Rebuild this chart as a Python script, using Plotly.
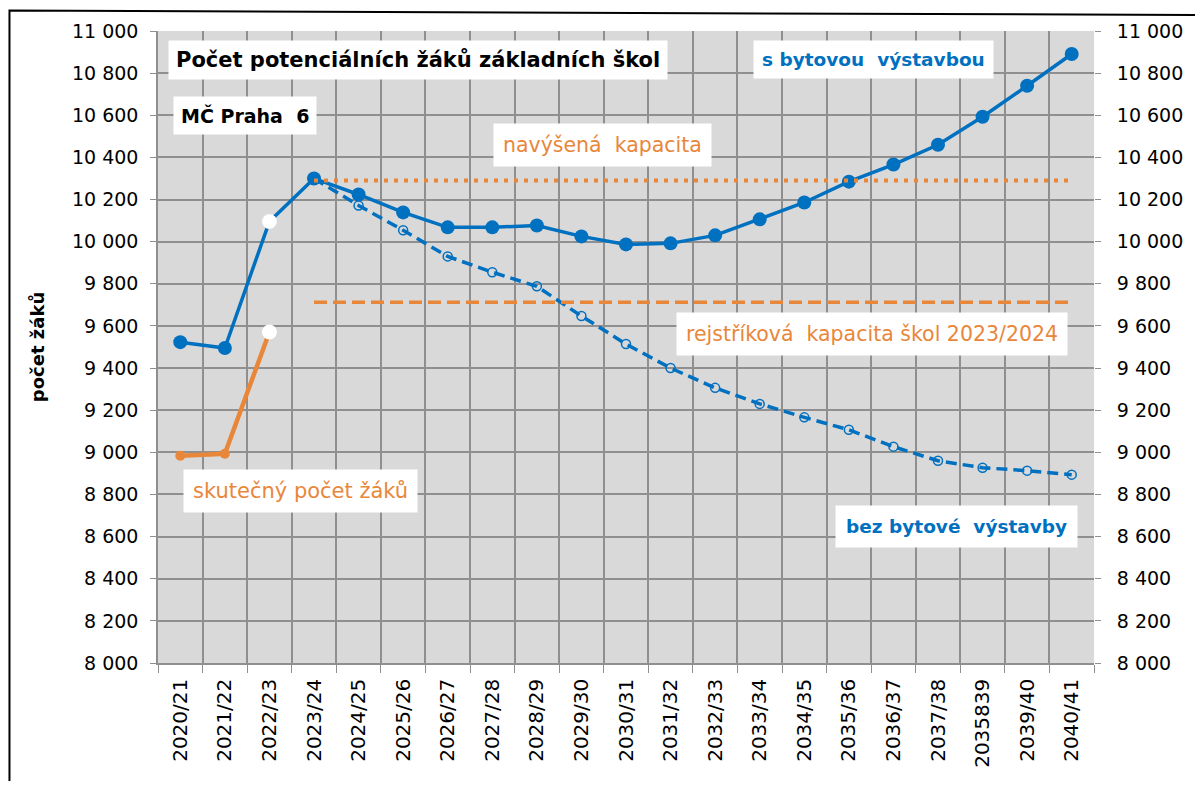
import plotly.graph_objects as go

categories = ["2020/21", "2021/22", "2022/23", "2023/24", "2024/25", "2025/26", "2026/27",
              "2027/28", "2028/29", "2029/30", "2030/31", "2031/32", "2032/33", "2033/34",
              "2034/35", "2035/36", "2036/37", "2037/38", "2035839", "2039/40", "2040/41"]

s_bytovou = [9523, 9495, 10096, 10300, 10224, 10139, 10068, 10068, 10077, 10025, 9987,
             9992, 10030, 10106, 10186, 10285, 10366, 10460, 10593, 10740, 10891]

bez_bytove = [None, None, None, 10300, 10172, 10054, 9930, 9855, 9788, 9647, 9514,
              9400, 9306, 9230, 9166, 9107, 9027, 8960, 8927, 8913, 8894]

skutecny_cats = ["2020/21", "2021/22", "2022/23"]
skutecny = [8984, 8993, 9571]

navysena_kapacita = 10290
rejstrikova_kapacita = 9712
cap_cats = ["2023/24", "2040/41"]

BLUE = "#0070C0"
ORANGE = "#E8873A"
FONT = "DejaVu Sans"

# the page body has an 8px margin; plot area in page px: x 158..1097, y 29..663
OFF = 8
PX_L, PX_R, PX_T, PX_B = 158, 1097, 29, 663
W, H = 1203 - 2 * OFF, 789 - 2 * OFF

fig = go.Figure()

fig.add_trace(go.Scatter(
    x=categories, y=s_bytovou, mode="lines+markers",
    line=dict(color=BLUE, width=3.5),
    marker=dict(size=14, color=BLUE, line=dict(width=0)),
    showlegend=False))

fig.add_trace(go.Scatter(
    x=categories, y=bez_bytove, mode="lines+markers",
    line=dict(color=BLUE, width=3.5, dash="11px,6px"),
    marker=dict(size=9, symbol="circle-open", color=BLUE, line=dict(width=1.5)),
    showlegend=False))

fig.add_trace(go.Scatter(
    x=skutecny_cats, y=skutecny, mode="lines+markers",
    line=dict(color=ORANGE, width=4.5),
    marker=dict(size=10, color=ORANGE, line=dict(width=0)),
    showlegend=False))

# white (estimated) points for 2022/23
fig.add_trace(go.Scatter(
    x=[categories[2], skutecny_cats[2]], y=[s_bytovou[2], skutecny[2]], mode="markers",
    marker=dict(size=[15, 15], color="white", opacity=1, line=dict(width=0)),
    showlegend=False))

fig.add_trace(go.Scatter(
    x=cap_cats, y=[navysena_kapacita] * 2, mode="lines",
    line=dict(color=ORANGE, width=4, dash="4px,6px"), showlegend=False))

fig.add_trace(go.Scatter(
    x=cap_cats, y=[rejstrikova_kapacita] * 2, mode="lines",
    line=dict(color=ORANGE, width=3.5, dash="13px,6px"), showlegend=False))

fig.add_trace(go.Scatter(x=categories, y=s_bytovou, yaxis="y2", mode="lines",
                         line=dict(width=0), opacity=0, hoverinfo="skip", showlegend=False))

GRID = "#8f8f8f"
yaxis_common = dict(range=[8000, 11000], dtick=200, tickformat=",d",
                    tickfont=dict(family=FONT, size=19, color="black"),
                    ticks="outside", ticklen=6, tickcolor=GRID)

fig.update_layout(
    width=W, height=H,
    margin=dict(l=PX_L - OFF, r=W - (PX_R - OFF), t=PX_T - OFF, b=H - (PX_B - OFF)),
    paper_bgcolor="white", plot_bgcolor="#d9d9d9",
    separators=", ",
    font=dict(family=FONT, color="black"),
    xaxis=dict(type="category", categoryorder="array", categoryarray=categories,
               range=[-0.5, 20.5], tickangle=-90, tickson="boundaries",
               ticks="outside", ticklen=8, tickcolor=GRID, ticklabelstandoff=6,
               showgrid=True, gridcolor=GRID, gridwidth=1.5,
               showline=True, linecolor=GRID, linewidth=1.5,
               tickfont=dict(family=FONT, size=20, color="black")),
    yaxis=dict(**yaxis_common, showgrid=True, gridcolor=GRID, gridwidth=1.5,
               showline=True, linecolor=GRID, linewidth=1.5, zeroline=False,
               ticklabelstandoff=8,
               title=dict(text="<b>počet žáků</b>", font=dict(family=FONT, size=18),
                          standoff=23)),
    yaxis2=dict(**yaxis_common, overlaying="y", side="right", showgrid=False,
                zeroline=False, showline=False, ticklabelstandoff=12),
)

def px_x(v):
    return (v - PX_L) / (PX_R - PX_L)

def px_y(v):
    return (PX_B - v) / (PX_B - PX_T)

def box(text, x, y, color, size, bold=False, pad=8):
    t = f"<b>{text}</b>" if bold else text
    fig.add_annotation(
        x=px_x(x), y=px_y(y), xref="paper", yref="paper",
        text=t, showarrow=False, bgcolor="white", borderpad=pad,
        font=dict(family=FONT, size=size, color=color),
        xanchor="center", yanchor="middle")

box("Počet potenciálních žáků základních škol", 419, 58, "black", 21, True, 7)
box("MČ Praha  6", 245, 114, "black", 19, True, 7)
box("navýšená  kapacita", 604, 143, ORANGE, 20.5, False, 9)
box("s bytovou  výstavbou", 876, 58, BLUE, 18.5, True, 8)
box("rejstříková  kapacita škol 2023/2024", 874, 333, ORANGE, 20.5, False, 9)
box("skutečný počet žáků", 301, 490, ORANGE, 21, False, 9)
box("bez bytové  výstavby", 959, 526, BLUE, 18.5, True, 10)

# frame: left and top edges only (image is cropped on right/bottom)
path = (f"M {px_x(9)},{px_y(800)} L {px_x(9)},{px_y(8.5)} "
        f"L {px_x(1210)},{px_y(13)}")
fig.add_shape(type="path", xref="paper", yref="paper", path=path,
              line=dict(color="black", width=2))

fig.write_html("out.html")
